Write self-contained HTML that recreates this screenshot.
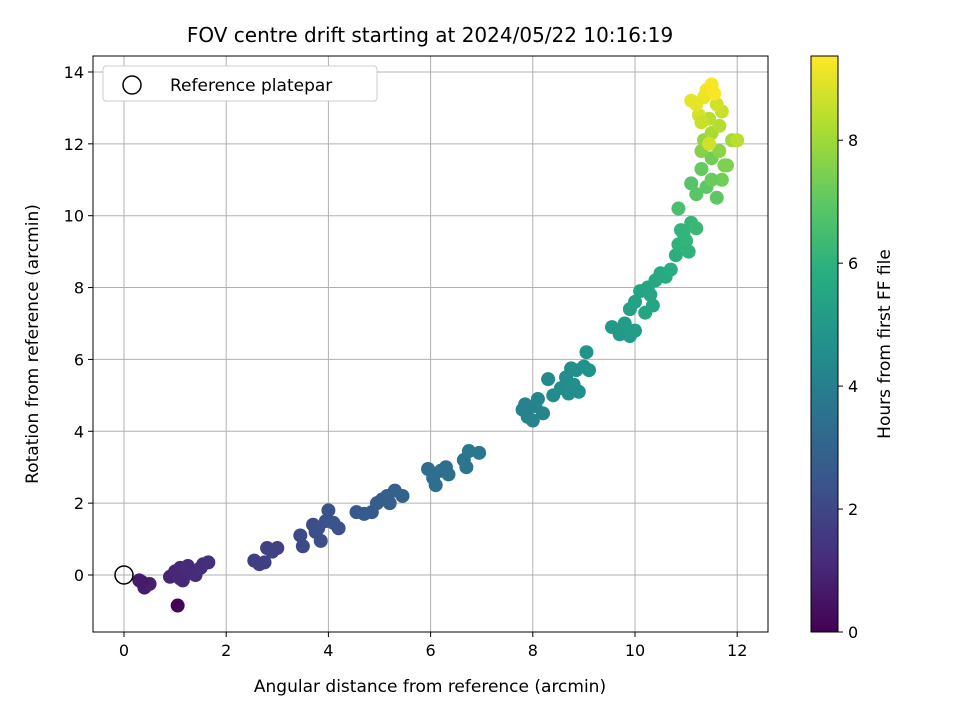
<!DOCTYPE html>
<html><head><meta charset="utf-8"><style>
body{margin:0;background:#fff;font-family:"Liberation Sans","DejaVu Sans",sans-serif;}
svg text{font-family:"DejaVu Sans","Liberation Sans",sans-serif;fill:#000;}
</style></head><body>
<svg id="chart" width="960" height="720" viewBox="0 0 960 720" xmlns="http://www.w3.org/2000/svg">
<defs>
<linearGradient id="vir" x1="0" y1="1" x2="0" y2="0">
<stop offset="0" stop-color="#440154"/><stop offset="0.125" stop-color="#472d7b"/><stop offset="0.25" stop-color="#3b528b"/><stop offset="0.375" stop-color="#2c728e"/><stop offset="0.5" stop-color="#21918c"/><stop offset="0.625" stop-color="#28ae80"/><stop offset="0.75" stop-color="#5ec962"/><stop offset="0.875" stop-color="#addc30"/><stop offset="1" stop-color="#fde725"/>
</linearGradient>
<clipPath id="pc"><rect x="93" y="56" width="675" height="576"/></clipPath>
</defs>
<text x="430" y="42" text-anchor="middle" font-size="20">FOV centre drift starting at 2024/05/22 10:16:19</text>
<g id="grid"></g>
<g id="points" clip-path="url(#pc)"></g>
<circle cx="124" cy="575" r="9" fill="none" stroke="#000" stroke-width="1.5"/>
<rect x="93" y="56" width="675" height="576" fill="none" stroke="#000" stroke-width="1"/>
<g id="xticks"></g>
<g id="yticks"></g>
<text x="430" y="692" text-anchor="middle" font-size="17">Angular distance from reference (arcmin)</text>
<text transform="translate(38,344) rotate(-90)" text-anchor="middle" font-size="17">Rotation from reference (arcmin)</text>
<g>
<rect x="103" y="66" width="274" height="35" rx="3" fill="#fff" stroke="#ccc"/>
<circle cx="132" cy="85" r="9" fill="none" stroke="#000" stroke-width="1.5"/>
<text x="170" y="91" font-size="17">Reference platepar</text>
</g>
<g id="cbar">
<rect x="811" y="56" width="27" height="576" fill="url(#vir)" stroke="#000" stroke-width="1"/>
<text transform="translate(890,344) rotate(-90)" text-anchor="middle" font-size="17">Hours from first FF file</text>
</g>
</svg>
<script>
const xTicks=[0,2,4,6,8,10,12];
const yTicks=[0,2,4,6,8,10,12,14];
const cTicks=[0,2,4,6,8];
const xs=[0.3,0.4,0.5,0.35,1.05,0.9,1.0,1.1,1.15,1.25,1.3,1.4,1.5,1.55,1.65,1.2,1.1,2.55,2.65,2.75,2.8,2.9,3.0,3.45,3.5,3.7,3.75,3.85,3.95,4.0,4.1,4.2,3.8,4.55,4.7,4.85,4.95,5.05,5.2,5.3,5.45,5.15,5.95,6.05,6.1,6.2,6.35,6.3,6.65,6.7,6.75,6.95,7.8,7.9,8.0,8.05,8.1,8.2,7.85,8.3,8.4,8.55,8.65,8.7,8.8,8.85,8.9,9.0,9.05,9.1,8.75,9.55,9.7,9.8,9.9,10.0,9.9,10.0,10.1,10.2,10.25,10.35,10.4,10.5,10.6,10.7,10.3,10.8,10.85,10.9,11.0,11.05,11.1,11.2,10.95,10.85,11.1,11.2,11.3,11.4,11.5,11.6,11.7,11.75,11.3,11.5,11.65,11.35,11.8,11.5,11.65,11.9,11.45,11.7,11.6,11.1,11.25,11.4,11.5,11.35,11.55,11.2,11.45,11.3,12.0];
const ys=[-0.15,-0.35,-0.25,-0.2,-0.85,-0.05,0.1,0.2,-0.15,0.25,0.05,0.0,0.2,0.3,0.35,0.1,-0.1,0.4,0.3,0.35,0.75,0.65,0.75,1.1,0.8,1.4,1.2,0.95,1.5,1.8,1.45,1.3,1.3,1.75,1.7,1.75,2.0,2.1,2.0,2.35,2.2,2.2,2.95,2.7,2.5,2.9,2.8,3.0,3.2,3.0,3.45,3.4,4.6,4.4,4.3,4.7,4.9,4.5,4.75,5.45,5.0,5.2,5.5,5.05,5.3,5.7,5.1,5.8,6.2,5.7,5.75,6.9,6.7,7.0,6.65,6.8,7.4,7.6,7.9,7.3,8.0,7.5,8.2,8.4,8.3,8.5,7.8,8.9,9.2,9.6,9.3,9.0,9.8,9.65,9.5,10.2,10.9,10.6,11.3,10.8,11.6,10.5,11.0,11.4,11.8,11.0,11.8,12.1,11.4,12.3,12.5,12.1,12.7,12.9,13.1,13.2,12.8,13.5,13.65,13.3,13.4,13.1,12.0,12.6,12.1];
const hours=[0.7,0.75,0.8,0.7,0.1,1.0,1.0,1.05,1.05,1.1,1.1,1.15,1.2,1.2,1.25,1.1,1.05,1.7,1.75,1.75,1.8,1.85,1.85,2.1,2.1,2.2,2.2,2.25,2.3,2.3,2.35,2.35,2.25,2.6,2.65,2.7,2.75,2.8,2.85,2.9,2.95,2.85,3.3,3.35,3.35,3.4,3.45,3.45,3.6,3.65,3.7,3.75,4.1,4.15,4.2,4.2,4.25,4.25,4.1,4.4,4.45,4.5,4.55,4.6,4.6,4.65,4.65,4.7,4.75,4.75,4.6,5.0,5.05,5.1,5.1,5.15,5.3,5.35,5.4,5.45,5.5,5.5,5.6,5.65,5.7,5.8,5.5,5.9,6.0,6.1,6.1,6.05,6.2,6.25,6.1,6.6,6.8,6.9,7.1,7.0,7.3,7.0,7.3,7.5,7.6,7.2,7.7,7.8,7.5,8.1,8.3,8.0,8.4,8.6,8.7,9.0,8.8,9.2,9.3,9.1,9.3,9.0,8.7,8.6,8.4];
const CMAX=9.37;
const NS='http://www.w3.org/2000/svg';
function X(v){return 124+v*51.1;}
function Y(v){return 575-v*35.93;}
function C(v){return 632-v/CMAX*576;}
const stops=[[68,1,84],[71,45,123],[59,82,139],[44,114,142],[33,145,140],[40,174,128],[94,201,98],[173,220,48],[253,231,37]];
function vir(h){let t=Math.max(0,Math.min(1,h/CMAX))*8;let i=Math.min(7,Math.floor(t));let f=t-i;const a=stops[i],b=stops[i+1];return 'rgb('+a.map((c,k)=>Math.round(c+(b[k]-c)*f)).join(',')+')';}
function mk(tag,attrs){const e=document.createElementNS(NS,tag);for(const k in attrs)e.setAttribute(k,attrs[k]);return e;}
const grid=document.getElementById('grid'),xt=document.getElementById('xticks'),yt=document.getElementById('yticks'),cb=document.getElementById('cbar'),pts=document.getElementById('points');
xTicks.forEach(v=>{
 const g=mk('line',{x1:X(v),x2:X(v),y1:56,y2:632,stroke:'#b0b0b0','stroke-width':1});
 
 
 grid.appendChild(g);
 const t=mk('line',{x1:X(v),x2:X(v),y1:632,y2:637,stroke:'#000'});
 
 
 xt.appendChild(t);
 const l=mk('text',{x:X(v),y:656,'text-anchor':'middle','font-size':'16'});l.textContent=v;
 
 
 xt.appendChild(l);
});
yTicks.forEach(v=>{
 const g=mk('line',{x1:93,x2:768,y1:Y(v),y2:Y(v),stroke:'#b0b0b0','stroke-width':1});
 
 
 grid.appendChild(g);
 const t=mk('line',{x1:88,x2:93,y1:Y(v),y2:Y(v),stroke:'#000'});
 
 
 yt.appendChild(t);
 const l=mk('text',{x:84,y:Y(v)+6,'text-anchor':'end','font-size':'16'});l.textContent=v;
 
 
 yt.appendChild(l);
});
cTicks.forEach(v=>{
 const t=mk('line',{x1:838,x2:843,y1:C(v),y2:C(v),stroke:'#000'});
 
 
 cb.appendChild(t);
 const l=mk('text',{x:848,y:C(v)+6,'font-size':'16'});l.textContent=v;
 
 
 cb.appendChild(l);
});
xs.forEach((v,i)=>{
 const c=mk('circle',{cx:X(v),cy:Y(ys[i]),r:7,fill:vir(hours[i])});
 
 
 pts.appendChild(c);
});
</script>
</body></html>
